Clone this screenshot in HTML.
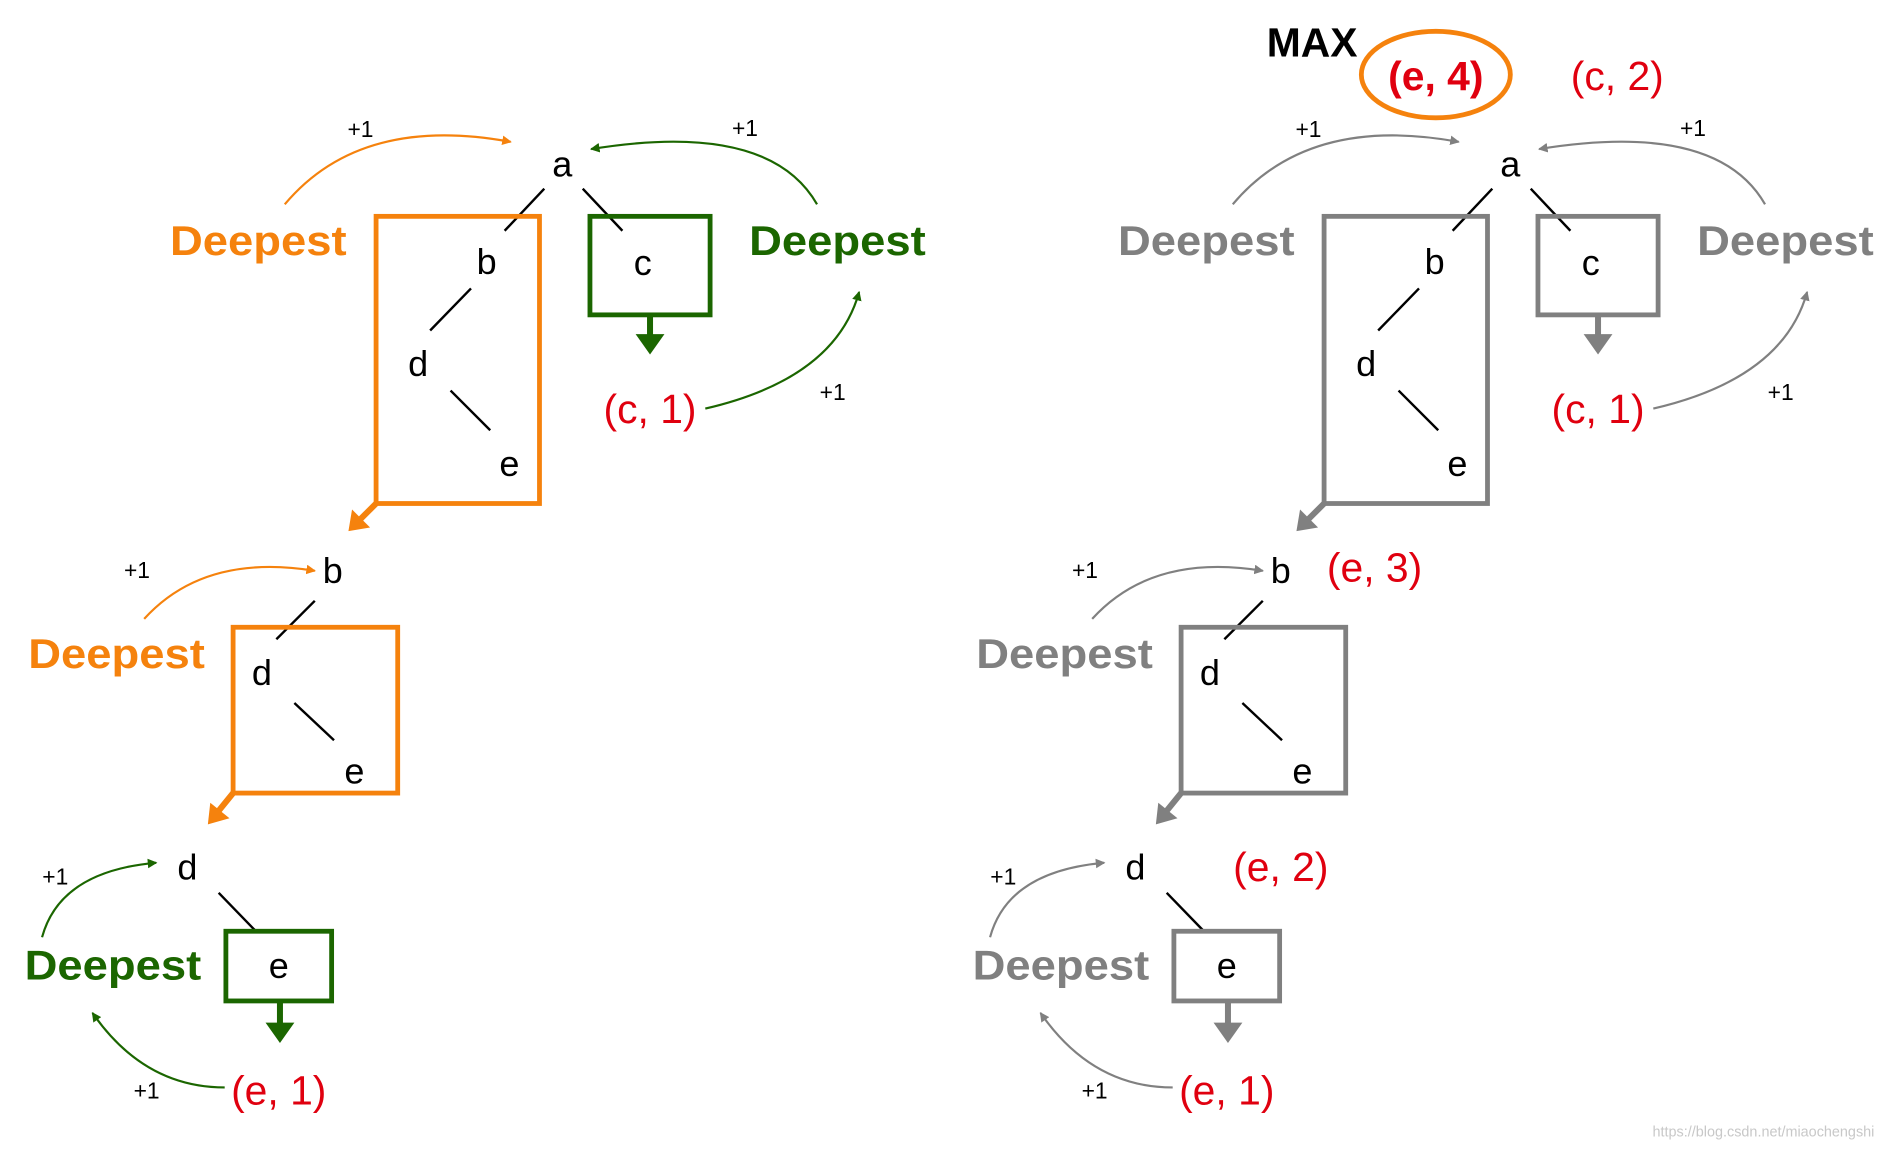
<!DOCTYPE html>
<html><head><meta charset="utf-8"><style>body{margin:0;background:#fff}svg{display:block}text{font-family:"Liberation Sans",sans-serif}</style></head><body>
<svg width="1884" height="1150" viewBox="0 0 1568 957" xmlns="http://www.w3.org/2000/svg">
<defs>
<marker id="ao" markerWidth="8" markerHeight="8" refX="7" refY="4" orient="auto" markerUnits="userSpaceOnUse"><path d="M0,0 L8,4 L0,8 z" fill="#f5820d"/></marker>
<marker id="ag" markerWidth="8" markerHeight="8" refX="7" refY="4" orient="auto" markerUnits="userSpaceOnUse"><path d="M0,0 L8,4 L0,8 z" fill="#1b6600"/></marker>
<marker id="ay" markerWidth="8" markerHeight="8" refX="7" refY="4" orient="auto" markerUnits="userSpaceOnUse"><path d="M0,0 L8,4 L0,8 z" fill="#808080"/></marker>
</defs>
<g id="L" font-size="30">
<path d="M237,170 Q300,95 425,118" fill="none" stroke="#f5820d" stroke-width="1.8" marker-end="url(#ao)"/>
<text x="300" y="114" font-size="19" text-anchor="middle">+1</text>
<text x="468" y="147" text-anchor="middle">a</text>
<g stroke="#000" stroke-width="2"><line x1="453" y1="157" x2="420" y2="192"/><line x1="485" y1="157" x2="518" y2="192"/><line x1="392" y1="240" x2="358" y2="275"/><line x1="375" y1="325" x2="408" y2="358"/></g>
<rect x="313" y="180" width="136" height="239" fill="none" stroke="#f5820d" stroke-width="4"/>
<text x="405" y="228" text-anchor="middle">b</text><text x="348" y="313" text-anchor="middle">d</text><text x="424" y="396" text-anchor="middle">e</text>
<rect x="491" y="180" width="100" height="82" fill="none" stroke="#1b6600" stroke-width="4"/>
<text x="535" y="229" text-anchor="middle">c</text>
<line x1="541" y1="262" x2="541" y2="280" stroke="#1b6600" stroke-width="5"/><path d="M529,278 L553,278 L541,295 z" fill="#1b6600"/>
<text x="215" y="212" font-size="35" font-weight="bold" fill="#f5820d" text-anchor="middle" textLength="147" lengthAdjust="spacingAndGlyphs">Deepest</text>
<text x="697" y="212" font-size="35" font-weight="bold" fill="#1b6600" text-anchor="middle" textLength="147" lengthAdjust="spacingAndGlyphs">Deepest</text>
<path d="M680,170 Q640,100 492,124" fill="none" stroke="#1b6600" stroke-width="1.8" marker-end="url(#ag)"/>
<text x="620" y="113" font-size="19" text-anchor="middle">+1</text>
<text x="541" y="352" font-size="34" fill="#e0000f" text-anchor="middle">(c, 1)</text>
<path d="M587,340 Q695,315 715,243" fill="none" stroke="#1b6600" stroke-width="1.8" marker-end="url(#ag)"/>
<text x="693" y="333" font-size="19" text-anchor="middle">+1</text>
<line x1="313" y1="419" x2="298" y2="434" stroke="#f5820d" stroke-width="5"/><path d="M290,442 L293,424 L308,439 z" fill="#f5820d"/>
<path d="M120,515 Q170,460 262,475" fill="none" stroke="#f5820d" stroke-width="1.8" marker-end="url(#ao)"/>
<text x="114" y="481" font-size="19" text-anchor="middle">+1</text>
<text x="277" y="485" text-anchor="middle">b</text>
<g stroke="#000" stroke-width="2"><line x1="262" y1="500" x2="230" y2="532"/><line x1="245" y1="585" x2="278" y2="616"/><line x1="182" y1="743" x2="213" y2="775"/></g>
<rect x="194" y="522" width="137" height="138" fill="none" stroke="#f5820d" stroke-width="4"/>
<text x="218" y="570" text-anchor="middle">d</text><text x="295" y="652" text-anchor="middle">e</text>
<text x="97" y="556" font-size="35" font-weight="bold" fill="#f5820d" text-anchor="middle" textLength="147" lengthAdjust="spacingAndGlyphs">Deepest</text>
<line x1="194" y1="660" x2="181" y2="676" stroke="#f5820d" stroke-width="5"/><path d="M173,686 L175,668 L191,681 z" fill="#f5820d"/>
<text x="156" y="732" text-anchor="middle">d</text>
<path d="M35,780 Q50,725 130,718" fill="none" stroke="#1b6600" stroke-width="1.8" marker-end="url(#ag)"/>
<text x="46" y="736" font-size="19" text-anchor="middle">+1</text>
<rect x="188" y="775" width="88" height="58" fill="none" stroke="#1b6600" stroke-width="4"/>
<text x="232" y="814" text-anchor="middle">e</text>
<line x1="233" y1="833" x2="233" y2="853" stroke="#1b6600" stroke-width="5"/><path d="M221,851 L245,851 L233,868 z" fill="#1b6600"/>
<text x="94" y="815" font-size="35" font-weight="bold" fill="#1b6600" text-anchor="middle" textLength="147" lengthAdjust="spacingAndGlyphs">Deepest</text>
<text x="232" y="919" font-size="34" fill="#e0000f" text-anchor="middle">(e, 1)</text>
<path d="M187,905 Q120,905 77,843" fill="none" stroke="#1b6600" stroke-width="1.8" marker-end="url(#ag)"/>
<text x="122" y="914" font-size="19" text-anchor="middle">+1</text>
</g>
<g transform="translate(789,0)" font-size="30">
<path d="M237,170 Q300,95 425,118" fill="none" stroke="#808080" stroke-width="1.8" marker-end="url(#ay)"/>
<text x="300" y="114" font-size="19" text-anchor="middle">+1</text>
<text x="468" y="147" text-anchor="middle">a</text>
<g stroke="#000" stroke-width="2"><line x1="453" y1="157" x2="420" y2="192"/><line x1="485" y1="157" x2="518" y2="192"/><line x1="392" y1="240" x2="358" y2="275"/><line x1="375" y1="325" x2="408" y2="358"/></g>
<rect x="313" y="180" width="136" height="239" fill="none" stroke="#808080" stroke-width="4"/>
<text x="405" y="228" text-anchor="middle">b</text><text x="348" y="313" text-anchor="middle">d</text><text x="424" y="396" text-anchor="middle">e</text>
<rect x="491" y="180" width="100" height="82" fill="none" stroke="#808080" stroke-width="4"/>
<text x="535" y="229" text-anchor="middle">c</text>
<line x1="541" y1="262" x2="541" y2="280" stroke="#808080" stroke-width="5"/><path d="M529,278 L553,278 L541,295 z" fill="#808080"/>
<text x="215" y="212" font-size="35" font-weight="bold" fill="#808080" text-anchor="middle" textLength="147" lengthAdjust="spacingAndGlyphs">Deepest</text>
<text x="697" y="212" font-size="35" font-weight="bold" fill="#808080" text-anchor="middle" textLength="147" lengthAdjust="spacingAndGlyphs">Deepest</text>
<path d="M680,170 Q640,100 492,124" fill="none" stroke="#808080" stroke-width="1.8" marker-end="url(#ay)"/>
<text x="620" y="113" font-size="19" text-anchor="middle">+1</text>
<text x="541" y="352" font-size="34" fill="#e0000f" text-anchor="middle">(c, 1)</text>
<path d="M587,340 Q695,315 715,243" fill="none" stroke="#808080" stroke-width="1.8" marker-end="url(#ay)"/>
<text x="693" y="333" font-size="19" text-anchor="middle">+1</text>
<line x1="313" y1="419" x2="298" y2="434" stroke="#808080" stroke-width="5"/><path d="M290,442 L293,424 L308,439 z" fill="#808080"/>
<path d="M120,515 Q170,460 262,475" fill="none" stroke="#808080" stroke-width="1.8" marker-end="url(#ay)"/>
<text x="114" y="481" font-size="19" text-anchor="middle">+1</text>
<text x="277" y="485" text-anchor="middle">b</text>
<g stroke="#000" stroke-width="2"><line x1="262" y1="500" x2="230" y2="532"/><line x1="245" y1="585" x2="278" y2="616"/><line x1="182" y1="743" x2="213" y2="775"/></g>
<rect x="194" y="522" width="137" height="138" fill="none" stroke="#808080" stroke-width="4"/>
<text x="218" y="570" text-anchor="middle">d</text><text x="295" y="652" text-anchor="middle">e</text>
<text x="97" y="556" font-size="35" font-weight="bold" fill="#808080" text-anchor="middle" textLength="147" lengthAdjust="spacingAndGlyphs">Deepest</text>
<line x1="194" y1="660" x2="181" y2="676" stroke="#808080" stroke-width="5"/><path d="M173,686 L175,668 L191,681 z" fill="#808080"/>
<text x="156" y="732" text-anchor="middle">d</text>
<path d="M35,780 Q50,725 130,718" fill="none" stroke="#808080" stroke-width="1.8" marker-end="url(#ay)"/>
<text x="46" y="736" font-size="19" text-anchor="middle">+1</text>
<rect x="188" y="775" width="88" height="58" fill="none" stroke="#808080" stroke-width="4"/>
<text x="232" y="814" text-anchor="middle">e</text>
<line x1="233" y1="833" x2="233" y2="853" stroke="#808080" stroke-width="5"/><path d="M221,851 L245,851 L233,868 z" fill="#808080"/>
<text x="94" y="815" font-size="35" font-weight="bold" fill="#808080" text-anchor="middle" textLength="147" lengthAdjust="spacingAndGlyphs">Deepest</text>
<text x="232" y="919" font-size="34" fill="#e0000f" text-anchor="middle">(e, 1)</text>
<path d="M187,905 Q120,905 77,843" fill="none" stroke="#808080" stroke-width="1.8" marker-end="url(#ay)"/>
<text x="122" y="914" font-size="19" text-anchor="middle">+1</text>
</g>
<text x="1092" y="47" font-size="34" font-weight="bold" text-anchor="middle">MAX</text>
<ellipse cx="1195" cy="62" rx="62" ry="36" fill="none" stroke="#f5820d" stroke-width="4"/>
<text x="1195" y="75" font-size="34" font-weight="bold" fill="#e0000f" text-anchor="middle">(e, 4)</text>
<text x="1346" y="75" font-size="34" fill="#e0000f" text-anchor="middle">(c, 2)</text>
<text x="1144" y="484" font-size="34" fill="#e0000f" text-anchor="middle">(e, 3)</text>
<text x="1066" y="733" font-size="34" fill="#e0000f" text-anchor="middle">(e, 2)</text>
<text x="1560" y="946" font-size="12" fill="#c8c8c8" text-anchor="end">https://blog.csdn.net/miaochengshi</text>
</svg>
</body></html>
